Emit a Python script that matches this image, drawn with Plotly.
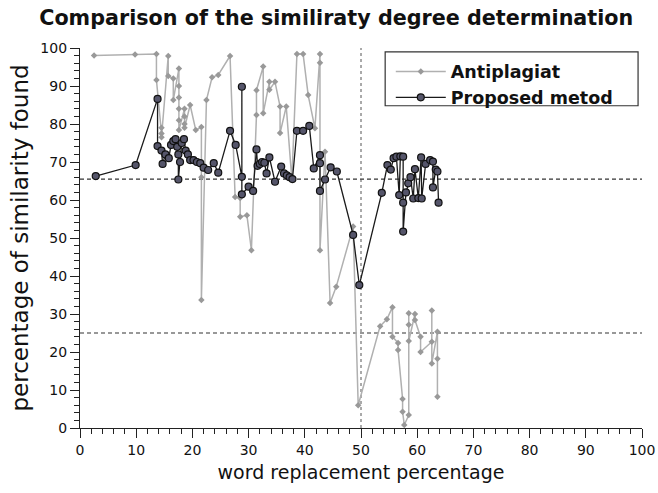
import plotly.graph_objects as go

# Antiplagiat series
anti_x = [2.5, 9.8, 13.6, 13.6, 14.5, 14.5, 14.5, 15.7, 15.7, 16.6, 16.6, 17.6, 17.6, 17.6, 17.6, 17.6, 17.6,
          18.6, 18.6, 18.6, 18.6, 19.6, 20.6, 21.6, 21.6, 21.6, 22.5, 23.5, 24.6, 26.7, 27.6, 28.5, 28.5, 29.7,
          30.5, 31.4, 31.4, 32.6, 32.6, 33.7, 33.7, 34.7, 35.6, 35.6, 36.7, 37.7, 38.6, 39.7, 40.6, 41.8, 42.7,
          42.7, 42.7, 43.6, 44.5, 45.6, 48.6, 49.5, 53.4, 54.6, 55.6, 55.6, 56.6, 56.6, 57.4, 57.4, 57.7, 58.5,
          58.5, 58.5, 58.5, 59.6, 59.6, 60.6, 60.6, 62.6, 62.6, 62.6, 63.6, 63.6, 63.6]
anti_y = [98.0, 98.3, 98.4, 91.6, 79.0, 77.5, 76.5, 97.9, 92.6, 92.0, 86.3, 94.6, 90.0, 87.0, 84.0, 81.0, 78.4,
          84.0, 82.0, 80.0, 79.0, 85.0, 78.4, 79.2, 66.0, 33.7, 86.3, 92.3, 92.9, 97.9, 60.8, 60.5, 55.6, 56.0,
          46.8, 82.4, 88.9, 95.1, 82.8, 91.1, 89.0, 91.1, 84.6, 77.6, 84.6, 65.3, 98.4, 98.4, 87.6, 78.9, 98.4,
          96.1, 46.8, 72.7, 32.9, 37.2, 53.0, 6.0, 26.8, 28.6, 31.8, 24.0, 22.4, 20.5, 7.6, 4.3, 0.8, 3.4,
          30.2, 27.2, 22.9, 30.0, 28.4, 24.0, 20.0, 22.7, 30.9, 17.0, 25.3, 18.2, 8.2]

# Proposed method series
prop_x = [2.8, 9.9, 13.8, 13.8, 14.5, 14.7, 15.2, 15.8, 16.2, 16.6, 17.0, 17.3, 17.5, 17.5, 17.8, 18.1, 18.5,
          18.8, 19.2, 19.6, 20.2, 20.8, 21.4, 22.0, 22.8, 23.8, 24.6, 26.7, 27.7, 28.8, 28.8, 28.8, 30.0, 30.8,
          31.4, 31.6, 32.0, 32.4, 32.8, 33.2, 33.7, 34.7, 35.8, 36.3, 36.8, 37.3, 37.8, 38.6, 39.7, 40.8, 41.6,
          42.7, 42.7, 42.7, 43.6, 44.6, 45.7, 48.6, 49.7, 53.7, 54.7, 55.3, 55.8, 56.3, 56.8, 57.0, 57.5, 57.5,
          57.5, 58.0, 58.4, 58.8, 59.3, 59.6, 60.2, 60.7, 60.8, 61.5, 62.3, 62.8, 62.8, 63.3, 63.6, 63.8]
prop_y = [66.3, 69.2, 86.6, 74.2, 73.0, 69.5, 72.0, 71.0, 74.5, 75.5, 76.0, 74.0, 72.0, 65.4, 70.0, 75.0, 76.0,
          73.0, 72.0, 70.5, 70.5, 70.0, 69.7, 68.5, 67.9, 69.7, 67.2, 78.2, 74.5, 66.1, 89.8, 61.5, 63.5, 62.4,
          73.3, 69.0, 69.5, 70.0, 69.8, 67.0, 71.2, 64.8, 68.8, 67.0, 66.5, 66.0, 65.5, 78.2, 78.2, 79.5, 68.3,
          71.8, 69.7, 62.4, 65.4, 68.6, 67.5, 50.8, 37.6, 61.9, 69.2, 68.0, 71.0, 71.4, 61.3, 71.5, 71.4, 59.3,
          51.7, 62.0, 64.4, 66.0, 60.4, 68.1, 60.5, 71.2, 60.4, 69.5, 70.5, 70.1, 63.3, 68.0, 67.5, 59.3]

ref_levels = [65.5, 25.0]
split_x = 50

fig = go.Figure()
fig.add_trace(go.Scatter(
    x=anti_x, y=anti_y, mode="lines+markers", name="Antiplagiat",
    line=dict(color="#b0b0b0", width=1.5),
    marker=dict(symbol="diamond", size=5, color="#999999"),
))
fig.add_trace(go.Scatter(
    x=prop_x, y=prop_y, mode="lines+markers", name="Proposed metod",
    line=dict(color="#1a1a1a", width=1.3),
    marker=dict(symbol="circle", size=7, color="#55556a", line=dict(color="#111111", width=1.2)),
))

for lv in ref_levels:
    fig.add_shape(type="line", xref="x", yref="y", x0=0, x1=100, y0=lv, y1=lv,
                  line=dict(color="#333333", width=1.2, dash="4px,3px"), layer="below")
fig.add_shape(type="line", xref="x", yref="y", x0=split_x, x1=split_x, y0=0, y1=100,
              line=dict(color="#555555", width=1, dash="dot"), layer="below")

# legend frame
fig.add_shape(type="rect", xref="paper", yref="paper", x0=0.543, x1=0.993, y0=0.848, y1=0.99,
              line=dict(color="#333333", width=1.2), fillcolor="white", layer="below")

axis_common = dict(
    range=[0, 100], dtick=10, ticks="outside", ticklen=9, tickwidth=1.2, tickcolor="#222",
    showline=True, linecolor="#222", linewidth=1.2, showgrid=False, zeroline=False,
    automargin=False,
    tickfont=dict(family="DejaVu Sans", size=14, color="#111"),
    minor=dict(dtick=2, ticks="outside", ticklen=5, tickcolor="#222", tickwidth=1),
)

fig.update_layout(
    width=658, height=493,
    margin=dict(l=80, r=16, t=48, b=65),
    paper_bgcolor="white", plot_bgcolor="white",
    title=dict(text="<b>Comparison of the similiraty degree determination</b>",
               x=0.511, xanchor="center", y=0.963, yanchor="middle",
               font=dict(family="DejaVu Sans", size=20.7, color="#111")),
    xaxis=dict(**axis_common,
               title=dict(text="word replacement percentage", standoff=8,
                          font=dict(family="DejaVu Sans", size=19, color="#111"))),
    yaxis=dict(**axis_common,
               title=dict(text="percentage of similarity found", standoff=5,
                          font=dict(family="DejaVu Sans", size=23, color="#111"))),
    legend=dict(x=0.553, y=0.985, xanchor="left", yanchor="top",
                bgcolor="rgba(0,0,0,0)", borderwidth=0, tracegroupgap=0, itemwidth=50,
                font=dict(family="DejaVu Sans", size=17.5, color="#111", weight=600)),
    showlegend=True,
)

fig.write_html("out.html", config={"displayModeBar": False},
               post_script="document.body.style.margin='0';document.body.style.overflow='hidden';")
